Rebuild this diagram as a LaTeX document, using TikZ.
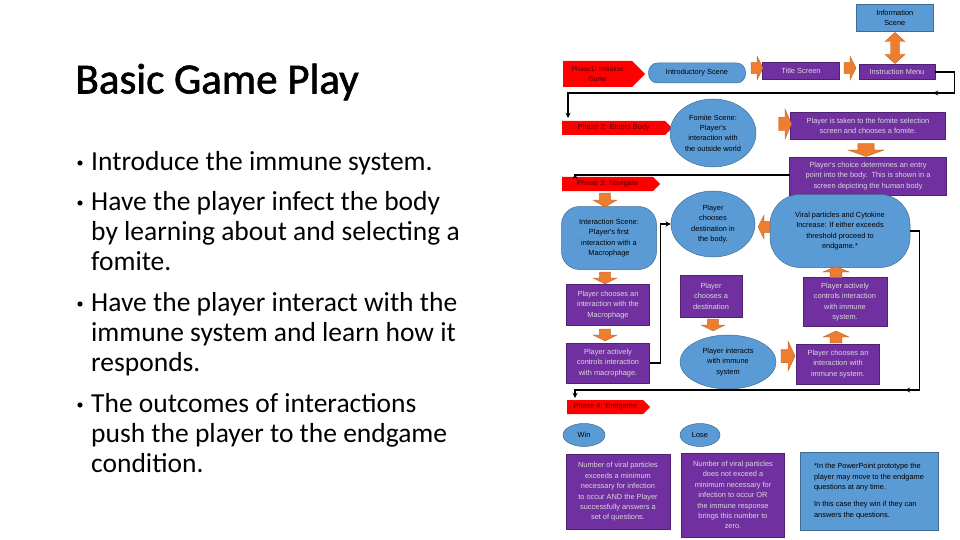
\documentclass[tikz,border=0pt]{standalone}
\usepackage{fontspec}
\setmainfont{Carlito}
\newfontfamily\chartfont{Liberation Sans}
\usetikzlibrary{shapes.symbols,shapes.geometric,positioning}
\definecolor{boxblue}{HTML}{5B9BD5}
\definecolor{boxpurple}{HTML}{7030A0}
\definecolor{arrorange}{HTML}{ED7D31}
\tikzset{
  chart/.style={font=\chartfont\fontsize{7.4}{10.4}\selectfont,align=center,inner sep=1pt},
  bluebox/.style={chart,fill=boxblue,draw=boxblue!70!black,line width=.5pt},
  purplebox/.style={chart,fill=boxpurple,draw=boxpurple!70!black,text=white!85!black,line width=.5pt},
  phase/.style={chart,shape=signal,signal to=east,fill=red,text=red!30!black,anchor=west,minimum height=14pt},
  point/.style={anchor=north west,font=\fontsize{27.5}{30}\selectfont,align=left,inner sep=0pt},
  link/.style={line width=1.3pt,-stealth},
  pics/barrow/.style args={#1/#2}{code={
    \filldraw[fill=arrorange,draw=arrorange!80!black,line width=.4pt]
      (-#1/2,-#2*.45) -- (0,-#2*.45) -- (0,-#2) -- (#1/2,0) -- (0,#2) -- (0,#2*.45) -- (-#1/2,#2*.45) -- cycle;}},
  pics/dbarrow/.style args={#1/#2}{code={
    \filldraw[fill=arrorange,draw=arrorange!80!black,line width=.4pt]
      (-#1/2,0) -- (-#1/2+9,-#2) -- (-#1/2+9,-#2*.45) -- (#1/2-9,-#2*.45) -- (#1/2-9,-#2) -- (#1/2,0)
      -- (#1/2-9,#2) -- (#1/2-9,#2*.45) -- (-#1/2+9,#2*.45) -- (-#1/2+9,#2) -- cycle;}}
}
\begin{document}
\begin{tikzpicture}[x=1pt,y=-1pt]
	\useasboundingbox (0,0) rectangle (960,540);
	% left text
	\node[anchor=west,font=\fontsize{43}{45}\selectfont\addfontfeature{FakeBold=1.5}] (heading) at (72,82) {Basic Game Play};
	\foreach \y/\txt [count=\i] in {151/{Introduce the immune system.},
	  191/{Have the player infect the body\\by learning about and selecting a\\fomite.},
	  292/{Have the player interact with the\\immune system and learn how it\\responds.},
	  393/{The outcomes of interactions\\push the player to the endgame\\condition.}}
	{\node[point] (pt\i) at (91,\y) {\txt};
	 \fill (80,\y+12) circle (2.6pt) coordinate (dot\i);}
	% phase 1
	\node[bluebox,minimum width=77pt,minimum height=27pt,anchor=north west] (info) at (856,4) {Information\\Scene};
	\node[phase,minimum height=26pt,minimum width=82pt,font=\chartfont\fontsize{6.8}{9.5}\selectfont] (ph1) at (563,74) {Phase1: Initialize\\Game};
	\node[bluebox,rounded corners=9pt,minimum width=97pt,minimum height=20pt] (intro) at (697,73) {Introductory Scene};
	\node[purplebox,minimum width=77pt,minimum height=17pt] (title) at (801,71) {Title Screen};
	\node[purplebox,minimum width=76pt,minimum height=15pt] (menu) at (897,72) {Instruction Menu};
	\pic at (757,68) {barrow=12/12};
	\pic at (850,68) {barrow=12/12};
	\pic[rotate=90] at (895,48) {dbarrow=31/10};
	% phase 2
	\node[phase,minimum width=110pt] (ph2) at (562,128) {Phase 2: Enters Body};
	\node[bluebox,ellipse,inner sep=0pt,minimum width=86pt,minimum height=68pt] (fomite) at (713,133) {Fomite Scene:\\Player's\\interaction with\\the outside world};
	\node[purplebox,minimum width=155pt,minimum height=27pt] (choose) at (868,126) {Player is taken to the fomite selection\\screen and chooses a fomite.};
	\node[purplebox,minimum width=157pt,minimum height=38pt] (entry) at (868,176) {Player's choice determines an entry\\point into the body.\, This is shown in a\\screen depicting the human body};
	\pic at (785,124) {barrow=13/15};
	\pic[rotate=-90] at (866,150) {barrow=13/18};
	% phase 3
	\node[phase,minimum width=98pt] (ph3) at (562,184) {Phase 3: Navigate};
	\node[bluebox,rounded corners=18pt,minimum width=95pt,minimum height=63pt] (macro) at (609,238) {Interaction Scene:\\Player's first\\interaction with a\\Macrophage};
	\node[bluebox,ellipse,inner sep=0pt,minimum width=84pt,minimum height=66pt] (dest) at (713,224) {Player\\chooses\\destination in\\the body.};
	\node[bluebox,rounded corners=30pt,minimum width=140pt,minimum height=73pt] (viral) at (840,231) {Viral particles and Cytokine\\Increase: If either exceeds\\threshold proceed to\\endgame.*};
	\node[purplebox,minimum width=83pt,minimum height=41pt] (pick) at (608,305) {Player chooses an\\interaction with the\\Macrophage};
	\node[purplebox,minimum width=83pt,minimum height=40pt] (ctrl) at (608,363) {Player actively\\controls interaction\\with macrophage.};
	\node[purplebox,minimum width=62pt,minimum height=42pt] (dbox) at (711,296) {Player\\chooses a\\destination};
	\node[bluebox,ellipse,inner sep=0pt,minimum width=96pt,minimum height=54pt] (immune) at (728,362) {Player interacts\\with immune\\system};
	\node[purplebox,minimum width=83pt,minimum height=40pt] (ipick) at (838,364) {Player chooses an\\interaction with\\immune system.};
	\node[purplebox,minimum width=84pt,minimum height=49pt] (ictrl) at (845,302) {Player actively\\controls interaction\\with immune\\system.};
	\pic[rotate=-90] at (605,200) {barrow=14/12};
	\pic[rotate=180] at (764,227) {barrow=12/12};
	\pic[rotate=-90] at (605,278) {barrow=12/12};
	\pic[rotate=-90] at (605,335) {barrow=12/12};
	\pic[rotate=-90] at (713,325) {barrow=12/12};
	\pic at (788,356) {barrow=14/15};
	\pic[rotate=90] at (836,337) {barrow=12/13};
	\pic[rotate=90] at (836,272) {barrow=11/13};
	% phase 4
	\node[phase,minimum width=83pt] (ph4) at (567,407) {Phase 4: Endgame};
	\node[bluebox,ellipse,minimum width=42pt,minimum height=23pt] (win) at (584,435) {Win};
	\node[bluebox,ellipse,minimum width=40pt,minimum height=23pt] (lose) at (700,435) {Lose};
	\node[purplebox,minimum width=104pt,minimum height=75pt] (wintxt) at (618,492) {Number of viral particles\\exceeds a minimum\\necessary for infection\\to occur AND the Player\\successfully answers a\\set of questions.};
	\node[purplebox,minimum width=103pt,minimum height=84pt] (losetxt) at (733,495) {Number of viral particles\\does not exceed a\\minimum necessary for\\infection to occur OR\\the immune response\\brings this number to\\zero.};
	\node[bluebox,minimum width=138pt,minimum height=78pt,align=left] (note) at (869,491) {*In the PowerPoint prototype the\\player may move to the endgame\\questions at any time.\\[7pt]In this case they win if they can\\answers the questions.};
	% connectors
	\draw[link] (menu.east) -- ++(19,0) |- (933,93);
	\draw[link] (954,93) -- (568,93) -- (568,118);
	\draw[link] (entry.west) -- ++(0,-1) -| (575,174);
	\draw[link] (ctrl.east) -- ++(11,0) |- (dest.west);
	\draw[link] (viral.east) -- ++(9,0) |- (905,390);
	\draw[link] (918,390) -- (575,390) -- (575,398);
\end{tikzpicture}
\end{document}
